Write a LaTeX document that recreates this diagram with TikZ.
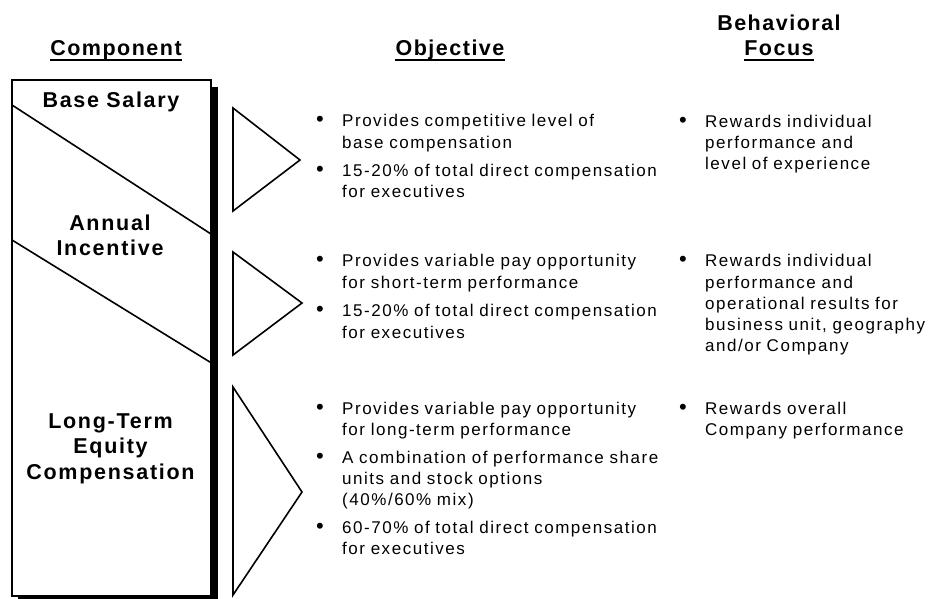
\documentclass[tikz,border=0pt]{standalone}
\usepackage{fontspec}
\setmainfont{Liberation Sans}
\newfontfamily\bodyfont{Liberation Sans}[LetterSpace=9]
\newfontfamily\headfont{Liberation Sans}[LetterSpace=7]
\newfontfamily\compfont{Liberation Sans}[LetterSpace=8]
\begin{document}
\begin{tikzpicture}[x=1pt,y=-1pt,
  shape line/.style={line width=1.6pt, line join=miter},
  head/.style={inner sep=0pt, anchor=base, font=\headfont\bfseries\fontsize{21.5}{25.5}\selectfont},
  comp/.style={inner sep=0pt, anchor=base, text width=195pt, align=center, font=\compfont\bfseries\fontsize{21.5}{25.6}\selectfont},
  item/.style={inner sep=0pt, anchor=base west, text width=330pt, align=left, font=\bodyfont\fontsize{17}{21.3}\selectfont},
  bul/.style={inner sep=0pt, anchor=base, font=\bodyfont\fontsize{22}{22}\selectfont},
  uline/.style={line width=1.5pt}]
\useasboundingbox (0,0) rectangle (929,598);
\fill[white] (0,0) rectangle (929,598);

% headers
\node[head] (hcomp) at (116,55) {Component};
\node[head] (hobj) at (450,55) {Objective};
\node[head] (hbeh1) at (779,30) {Behavioral};
\node[head] (hbeh2) at (779,55) {Focus};
\draw[uline] ([yshift=-5pt]hcomp.base west) -- ([yshift=-5pt]hcomp.base east);
\draw[uline] ([yshift=-5pt]hobj.base west) -- ([yshift=-5pt]hobj.base east);
\draw[uline] ([yshift=-5pt]hbeh2.base west) -- ([yshift=-5pt]hbeh2.base east);

% component box with shadow
\fill[black] (18,87) rectangle (218,605);
\draw[shape line, fill=white] (12,80) rectangle (211,596);
\draw[shape line] (12,105) -- (211,234);
\draw[shape line] (12,240) -- (211,362.7);
\node[comp] (cbase) at (111,107) {Base Salary};
\node[comp] (cann) at (110,230) {Annual\\Incentive};
\node[comp] (clt) at (110.5,428) {Long-Term\\Equity\\Compensation};

% triangles
\draw[shape line] (233,108) -- (300,160) -- (233,211) -- cycle;
\draw[shape line] (233,252) -- (302,303) -- (233,355) -- cycle;
\draw[shape line] (233,387) -- (302,492) -- (233,595) -- cycle;

% objective bullets
\node[bul] (ob1) at (320,126.7) {•};
\node[item] (o1) at (342,126.7) {Provides competitive level of\\base compensation};
\node[bul] (ob2) at (320,176) {•};
\node[item] (o2) at (342,176) {15-20\% of total direct compensation\\for executives};
\node[bul] (ob3) at (320,266.7) {•};
\node[item] (o3) at (342,266.7) {Provides variable pay opportunity\\for short-term performance};
\node[bul] (ob4) at (320,316.7) {•};
\node[item] (o4) at (342,316.7) {15-20\% of total direct compensation\\for executives};
\node[bul] (ob5) at (320,414.5) {•};
\node[item] (o5) at (342,414.5) {Provides variable pay opportunity\\for long-term performance};
\node[bul] (ob6) at (320,463.3) {•};
\node[item] (o6) at (342,463.3) {A combination of performance share\\units and stock options\\(40\%/60\% mix)};
\node[bul] (ob7) at (320,533.3) {•};
\node[item] (o7) at (342,533.3) {60-70\% of total direct compensation\\for executives};

% behavioral focus
\node[bul] (bb1) at (683,127) {•};
\node[item] (b1) at (705,127) {Rewards individual\\performance and\\level of experience};
\node[bul] (bb2) at (683,266.7) {•};
\node[item] (b2) at (705,266.7) {Rewards individual\\performance and\\operational results for\\business unit, geography\\and/or Company};
\node[bul] (bb3) at (683,414.5) {•};
\node[item] (b3) at (705,414.5) {Rewards overall\\Company performance};
\end{tikzpicture}
\end{document}
